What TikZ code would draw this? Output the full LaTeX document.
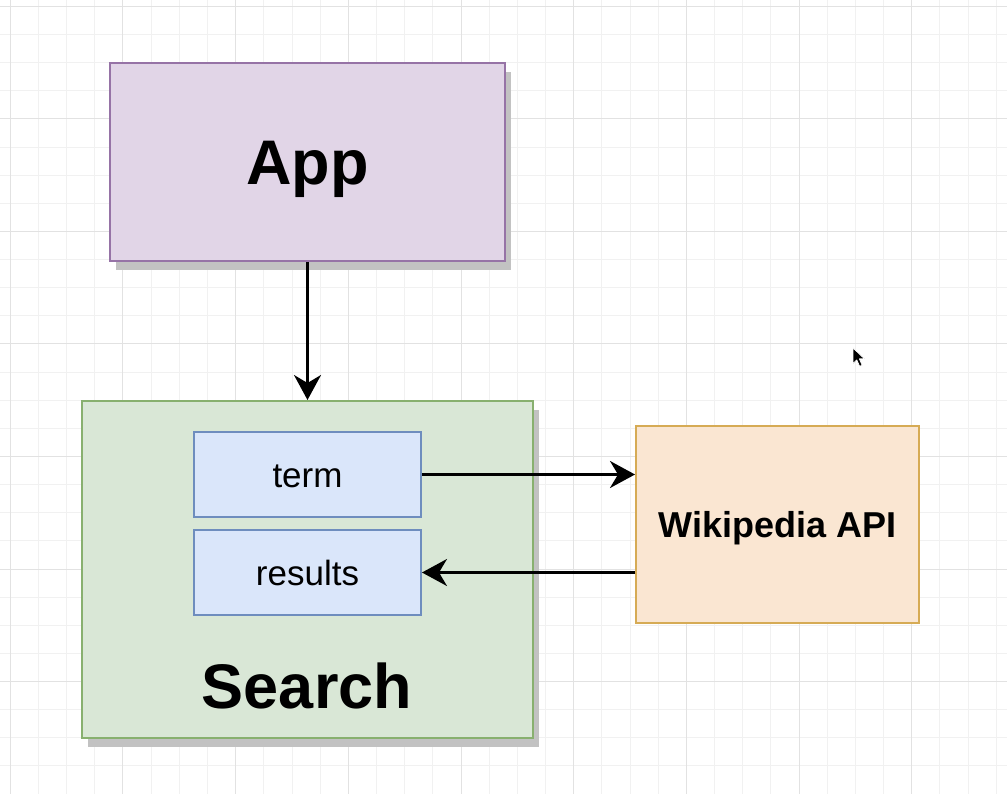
\documentclass[tikz,border=0pt]{standalone}
\usepackage{fontspec}
\setmainfont{Liberation Sans}
\usetikzlibrary{arrows.meta,shadows}
\definecolor{minorgrid}{HTML}{F1F1F1}
\definecolor{majorgrid}{HTML}{E2E2E2}
\definecolor{appfill}{HTML}{E1D5E7}
\definecolor{appline}{HTML}{9673A6}
\definecolor{searchfill}{HTML}{D9E7D6}
\definecolor{searchline}{HTML}{88B06F}
\definecolor{bluefill}{HTML}{DAE6FA}
\definecolor{blueline}{HTML}{6E8DBE}
\definecolor{wikifill}{HTML}{FAE6D2}
\definecolor{wikiline}{HTML}{D6AB55}
\definecolor{shadowgray}{HTML}{C2C2C2}
\tikzset{
  minorline/.style={draw=minorgrid,line width=1pt},
  majorline/.style={draw=majorgrid,line width=1pt},
  boxbase/.style={rectangle,inner sep=0pt,line width=2pt,text depth=0pt,align=center},
  withshadow/.style={general shadow={fill=shadowgray,shadow xshift=6pt,shadow yshift=-9pt}},
  appbox/.style={boxbase,withshadow,fill=appfill,draw=appline,minimum width=395pt,minimum height=198pt,text height=45pt,font=\fontsize{63}{70}\selectfont\bfseries},
  searchbox/.style={boxbase,withshadow,fill=searchfill,draw=searchline,minimum width=451pt,minimum height=337pt},
  statebox/.style={boxbase,fill=bluefill,draw=blueline,minimum width=227pt,minimum height=85pt,text height=25pt,font=\fontsize{35}{40}\selectfont},
  wikibox/.style={boxbase,fill=wikifill,draw=wikiline,minimum width=283pt,minimum height=197pt,text height=25.8pt,font=\fontsize{36}{42}\selectfont\bfseries},
  biglabel/.style={inner sep=0pt,anchor=base,font=\fontsize{63}{70}\selectfont\bfseries},
  flow/.style={line width=2.6pt,-{Stealth[length=25pt,width=27pt,inset=8pt]}},
  cursorshape/.style={fill=black,draw=white,line width=0.6pt,line join=round}
}
\begin{document}
\begin{tikzpicture}[x=1pt,y=-1pt]
\useasboundingbox (0,0) rectangle (1007,794);
\fill[white] (0,0) rectangle (1007,794);
% grid
\foreach \k in {0,...,35} \draw[minorline] ({10.3+\k*28.17},0) -- ({10.3+\k*28.17},794);
\foreach \k in {0,...,28} \draw[minorline] (0,{6.5+\k*28.125}) -- (1007,{6.5+\k*28.125});
\foreach \k in {0,...,8} \draw[majorline] ({10.3+\k*112.68},0) -- ({10.3+\k*112.68},794);
\foreach \k in {0,...,7} \draw[majorline] (0,{6.5+\k*112.5}) -- (1007,{6.5+\k*112.5});
% nodes
\node[appbox] (app) at (307.5,162) {App};
\node[searchbox] (search) at (307.5,569.5) {};
\node[statebox] (term) at (307.5,474.5) {term};
\node[statebox] (results) at (307.5,572.5) {results};
\node[biglabel] (searchlabel) at (307,708) {Search};
\node[wikibox] (wiki) at (777.5,524.5) {Wikipedia API};
% connectors
\draw[flow] (app.south) -- (search.north);
\draw[flow] (term.east) -- (wiki.west |- term.east);
\draw[flow] (wiki.west |- results.east) -- (results.east);
% mouse cursor
\filldraw[cursorshape] (853,348) -- (853,363.5) -- (856.8,359.8) -- (859.6,366.2) -- (862,365.2) -- (859.3,358.8) -- (864.3,358.8) -- cycle;
\end{tikzpicture}
\end{document}
